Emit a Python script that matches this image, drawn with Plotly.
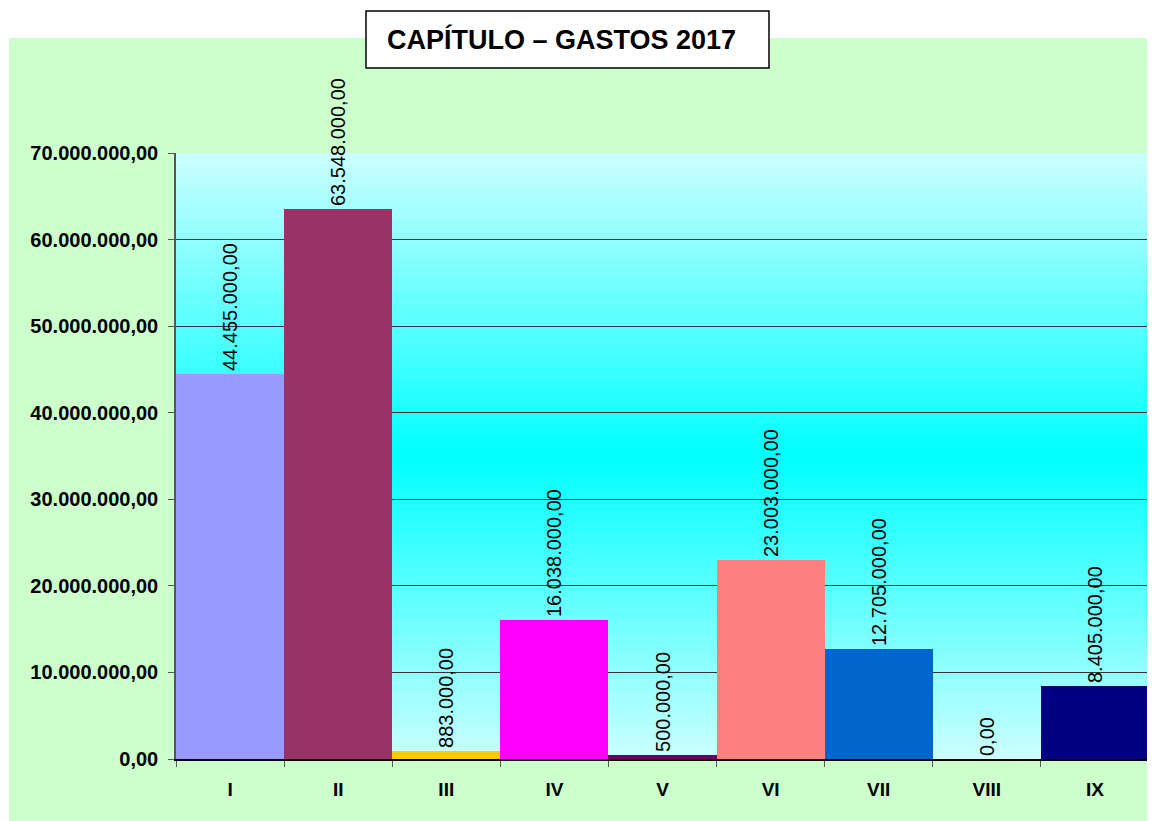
import plotly.graph_objects as go

# ---- data ----
categories = ["I", "II", "III", "IV", "V", "VI", "VII", "VIII", "IX"]
values = [44455000, 63548000, 883000, 16038000, 500000, 23003000, 12705000, 0, 8405000]
bar_colors = ["#9999FF", "#993366", "#FFCC00", "#FF00FF", "#660066",
              "#FF8080", "#0066CC", "#CCCCFF", "#000080"]
title_text = "CAPÍTULO – GASTOS 2017"
y_ticks = [0, 10000000, 20000000, 30000000, 40000000, 50000000, 60000000, 70000000]

# page body has an 8px margin; compensate so page pixels match the reference
OFF = 8
W, H = 1155 - OFF, 821 - OFF
ML, MR, MT, MB = 176 - OFF, 6, 153 - OFF, 62
PW, PH = W - ML - MR, H - MT - MB


def px_x(px):
    return (px - OFF - ML) / PW


def px_y(py):
    return (H - MB - (py - OFF)) / PH


fig = go.Figure()
fig.add_trace(go.Bar(
    x=categories, y=values,
    marker=dict(color=bar_colors, line=dict(width=0)),
    texttemplate="%{y:,.2f}",
    textposition="outside",
    textangle=-90,
    constraintext="none",
    cliponaxis=False,
    textfont=dict(family="Liberation Sans, Arial", size=20, color="black"),
    hoverinfo="skip",
))

shapes = []
# green outer frame
shapes.append(dict(type="rect", xref="paper", yref="paper",
                   x0=px_x(9), x1=px_x(1160), y0=px_y(38), y1=px_y(830),
                   fillcolor="#CCFFCC", line=dict(width=0), layer="below"))
# vertical gradient in plot area: light cyan -> cyan (center) -> light cyan
n = 150
c_edge = (204, 255, 255)
c_mid = (0, 255, 255)
for i in range(n):
    t0 = i / n
    t1 = (i + 1) / n
    tm = (t0 + t1) / 2
    f = abs(tm - 0.5) * 2  # 0 at center, 1 at edges
    col = tuple(round(c_mid[k] + (c_edge[k] - c_mid[k]) * f) for k in range(3))
    shapes.append(dict(type="rect", xref="paper", yref="paper",
                       x0=0, x1=1, y0=t0, y1=min(1, t1 + 0.004),
                       fillcolor="rgb(%d,%d,%d)" % col, line=dict(width=0),
                       layer="below"))
# title box
shapes.append(dict(type="rect", xref="paper", yref="paper",
                   x0=px_x(366), x1=px_x(769), y0=px_y(68), y1=px_y(11),
                   fillcolor="white", line=dict(color="black", width=1.5),
                   layer="above"))

fig.update_layout(
    width=W, height=H,
    margin=dict(l=ML, r=MR, t=MT, b=MB),
    paper_bgcolor="white",
    plot_bgcolor="rgba(0,0,0,0)",
    separators=",.",
    bargap=0,
    showlegend=False,
    shapes=shapes,
    annotations=[dict(
        xref="paper", yref="paper",
        x=px_x(385), y=px_y(39), xanchor="left", yanchor="middle",
        text=title_text, showarrow=False,
        font=dict(family="Liberation Sans, Arial", size=27, color="black", weight="bold"),
    )],
    xaxis=dict(
        showgrid=False,
        showline=True, linecolor="black", linewidth=1.5,
        ticks="outside", ticklen=6, tickcolor="#555555",
        tickson="boundaries",
        tickfont=dict(family="Liberation Sans, Arial", size=19, color="black", weight="bold"),
        ticklabelstandoff=12,
        fixedrange=True,
    ),
    yaxis=dict(
        range=[0, 70000000],
        tickvals=y_ticks,
        tickformat=",.2f",
        showgrid=True, gridcolor="#333333", gridwidth=1,
        showline=True, linecolor="#555555", linewidth=1.5,
        ticks="outside", ticklen=6, tickcolor="#555555",
        tickfont=dict(family="Liberation Sans, Arial", size=20, color="black", weight="bold"),
        ticklabelstandoff=6,
        zeroline=False,
        fixedrange=True,
    ),
)

fig.write_html("out.html")
